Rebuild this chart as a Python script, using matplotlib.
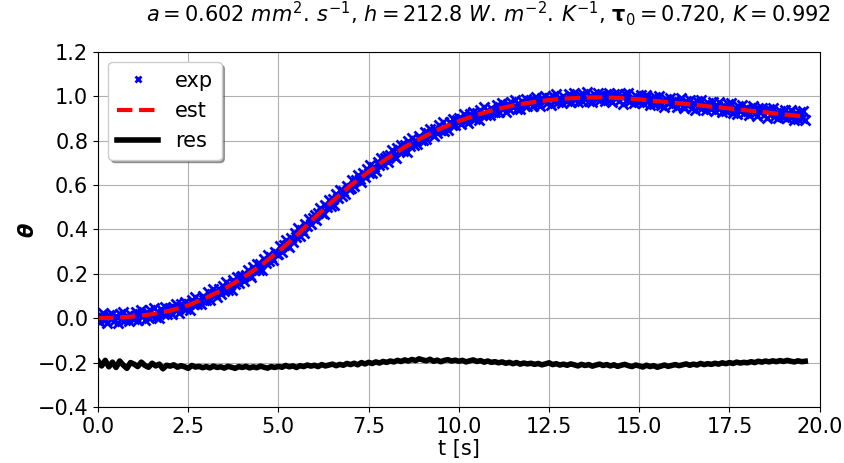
import numpy as np
import matplotlib
matplotlib.use('Agg')
import matplotlib.pyplot as plt

plt.rcParams['font.family'] = ['DejaVu Sans']
plt.rcParams['font.size'] = 15
plt.rcParams['mathtext.fontset'] = 'dejavusans'

# temps (s) et courbe estimee
t_est = [0.0, 0.5, 1.0, 1.5, 2.0, 2.5, 3.0, 3.5, 4.0, 4.5,
         5.0, 5.5, 6.0, 6.5, 7.0, 7.5, 8.0, 8.5, 9.0, 9.5,
         10.0, 10.5, 11.0, 11.5, 12.0, 12.5, 13.0, 13.5, 14.0, 14.5,
         15.0, 15.5, 16.0, 16.5, 17.0, 17.5, 18.0, 18.5, 19.0, 19.5, 19.6]
theta_est = [0.000, 0.002, 0.008, 0.018, 0.034, 0.058, 0.092, 0.132, 0.180, 0.236,
             0.300, 0.372, 0.452, 0.527, 0.598, 0.660, 0.718, 0.771, 0.815, 0.855,
             0.888, 0.916, 0.940, 0.958, 0.972, 0.983, 0.990, 0.994, 0.995, 0.992,
             0.986, 0.978, 0.970, 0.962, 0.953, 0.945, 0.936, 0.928, 0.918, 0.910, 0.908]

# mesures, pas de 0.05 s, en milliemes
exp_mil = [
    12, -18, 5, 23, -8, -20, 16, -2, 21, -12,
    10, -21, 20, -2, 28, -6, 8, -13, 20, 0,
    -2, 29, -6, 18, 35, 9, -6, 26, 3, 35,
    10, 45, 4, 26, 2, 40, 23, 50, 19, 41,
    46, 18, 44, 63, 35, 25, 63, 48, 72, 42,
    66, 37, 82, 62, 96, 64, 80, 63, 98, 82,
    82, 116, 84, 111, 131, 108, 96, 131, 111, 146,
    124, 162, 125, 149, 129, 170, 156, 187, 158, 184,
    192, 168, 196, 219, 193, 187, 229, 216, 244, 216,
    244, 218, 266, 249, 286, 257, 276, 262, 300, 287,
    290, 327, 298, 329, 352, 332, 323, 361, 345, 383,
    364, 405, 371, 399, 382, 426, 415, 449, 424, 453,
    464, 442, 472, 497, 473, 469, 512, 502, 531, 506,
    535, 510, 558, 542, 579, 552, 572, 558, 597, 584,
    588, 624, 594, 624, 646, 625, 615, 652, 635, 672,
    652, 691, 655, 680, 661, 703, 690, 722, 694, 721,
    730, 705, 734, 756, 730, 724, 765, 752, 779, 752,
    779, 751, 797, 778, 813, 782, 799, 783, 819, 804,
    805, 839, 807, 834, 854, 831, 819, 854, 834, 869,
    847, 883, 845, 868, 846, 886, 870, 899, 869, 894,
    900, 873, 899, 918, 890, 881, 920, 905, 929, 899,
    924, 894, 938, 917, 950, 917, 932, 914, 948, 931,
    930, 962, 928, 952, 970, 945, 931, 964, 941, 974,
    950, 984, 944, 965, 942, 979, 961, 989, 957, 980,
    984, 955, 979, 997, 967, 957, 994, 977, 1000, 968,
    991, 960, 1001, 979, 1010, 976, 989, 969, 1002, 982,
    980, 1010, 975, 998, 1015, 988, 972, 1004, 980, 1012,
    986, 1019, 977, 997, 972, 1008, 990, 1016, 983, 1004,
    1007, 977, 999, 1016, 985, 972, 1008, 990, 1012, 978,
    1000, 967, 1008, 984, 1014, 978, 990, 969, 1000, 980,
    976, 1005, 968, 991, 1006, 978, 961, 991, 967, 997,
    970, 1002, 959, 979, 953, 988, 968, 993, 960, 980,
    982, 951, 973, 990, 958, 945, 980, 961, 983, 949,
    970, 937, 977, 953, 982, 947, 959, 937, 968, 947,
    943, 972, 935, 958, 973, 945, 928, 958, 934, 964,
    937, 969, 926, 945, 919, 955, 935, 960, 926, 946,
    948, 917, 939, 956, 924, 911, 946, 927, 949, 915,
    936, 903, 943, 919, 948, 912, 924, 902, 933, 912,
    908, 937, 900, 923, 938, 910, 893, 923, 899, 929,
    902, 934, 891]

# residus (decales de -0.2), pas de 0.1 s
res = [
    -0.192, -0.215, -0.190, -0.219, -0.198, -0.222, -0.193, -0.211, -0.226, -0.200,
    -0.207, -0.218, -0.198, -0.213, -0.221, -0.203, -0.215, -0.207, -0.228, -0.212,
    -0.216, -0.210, -0.221, -0.214, -0.219, -0.226, -0.213, -0.220, -0.217, -0.223,
    -0.218, -0.224, -0.216, -0.222, -0.219, -0.225, -0.217, -0.221, -0.226, -0.218,
    -0.222, -0.217, -0.224, -0.219, -0.223, -0.216, -0.221, -0.225, -0.218, -0.222,
    -0.217, -0.221, -0.213, -0.219, -0.215, -0.222, -0.214, -0.218, -0.211, -0.216,
    -0.212, -0.218, -0.209, -0.215, -0.211, -0.207, -0.214, -0.208, -0.212, -0.204,
    -0.209, -0.203, -0.210, -0.200, -0.206, -0.199, -0.204, -0.197, -0.202, -0.195,
    -0.199, -0.193, -0.197, -0.190, -0.195, -0.188, -0.193, -0.186, -0.191, -0.183,
    -0.188, -0.192, -0.185, -0.194, -0.189, -0.196, -0.190, -0.187, -0.193, -0.189,
    -0.194, -0.190, -0.197, -0.192, -0.188, -0.195, -0.191, -0.198, -0.193, -0.199,
    -0.196, -0.201, -0.197, -0.203, -0.199, -0.205, -0.200, -0.207, -0.202, -0.206,
    -0.203, -0.208, -0.204, -0.210, -0.206, -0.201, -0.209, -0.205, -0.211, -0.207,
    -0.212, -0.206, -0.210, -0.215, -0.208, -0.213, -0.209, -0.216, -0.211, -0.207,
    -0.213, -0.209, -0.215, -0.210, -0.217, -0.212, -0.208, -0.214, -0.218, -0.211,
    -0.215, -0.220, -0.212, -0.218, -0.214, -0.221, -0.216, -0.211, -0.217, -0.213,
    -0.209, -0.214, -0.210, -0.206, -0.212, -0.207, -0.211, -0.204, -0.209, -0.205,
    -0.208, -0.203, -0.207, -0.201, -0.205, -0.200, -0.204, -0.198, -0.202, -0.199,
    -0.201, -0.196, -0.200, -0.194, -0.198, -0.193, -0.197, -0.192, -0.196, -0.191,
    -0.195, -0.190, -0.194, -0.197, -0.192, -0.196, -0.194]

theta_exp = np.array(exp_mil) / 1000.0
t_exp = np.round(np.arange(len(theta_exp)) * 0.05, 2)
t_res = np.round(np.arange(len(res)) * 0.1, 1)

titre = (r'$a = 0.602\ mm^2.\,s^{-1}$, $h = 212.8\ W.\,m^{-2}.\,K^{-1}$, '
         r'$\mathbf{\tau}_0 = 0.720$, $K = 0.992$')

fig = plt.figure(figsize=(8.45, 4.63), dpi=100)
ax = fig.add_axes([0.116, 0.121, 0.854, 0.767])

ax.plot(t_exp, theta_exp, 'bx', markersize=7, mew=2, label='exp')
ax.plot(t_est, theta_est, 'r--', lw=3, label='est')
ax.plot(t_res, res, 'k-', lw=4, label='res')

ax.set_xlim(0, 20)
ax.set_ylim(-0.4, 1.2)
ax.set_xticks([0, 2.5, 5, 7.5, 10, 12.5, 15, 17.5, 20])
ax.set_yticks([-0.4, -0.2, 0.0, 0.2, 0.4, 0.6, 0.8, 1.0, 1.2])
ax.grid(True)
ax.set_xlabel('t [s]', labelpad=2)
ax.set_ylabel('θ', fontweight='bold', fontstyle='italic', labelpad=0)
ax.set_title(titre, fontsize=15, pad=22, x=0.5415)
ax.legend(loc='upper left', shadow=True, fancybox=True, numpoints=1,
          markerscale=0.6)

fig.savefig('out.png', dpi=100)
